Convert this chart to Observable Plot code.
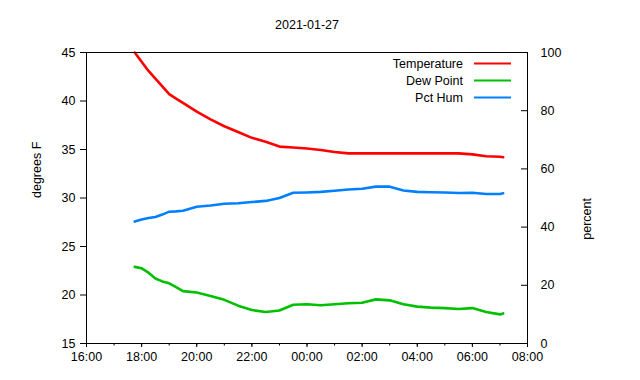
<!DOCTYPE html>
<html><head><meta charset="utf-8">
<script src="https://cdn.jsdelivr.net/npm/d3@7"></script>
<script src="https://cdn.jsdelivr.net/npm/@observablehq/plot@0.6"></script>
<style>body{margin:0;background:#fff;} svg{display:block;}</style>
</head><body><div id="chart"></div>
<script>
const title = "2021-01-27";
const times = ["17:45","18:00","18:15","18:30","18:45","19:00","19:15","19:30","20:00","20:30","21:00","21:30","22:00","22:30","23:00","23:30",
  "00:00","00:30","01:00","01:30","02:00","02:30","03:00","03:30","04:00","04:30","05:00","05:30","06:00","06:30","07:00","07:07"];
const temperature = [45.0,44.05,43.1,42.3,41.5,40.7,40.25,39.8,38.9,38.1,37.4,36.8,36.2,35.8,35.3,35.2,
  35.1,34.95,34.75,34.6,34.6,34.6,34.6,34.6,34.6,34.6,34.6,34.6,34.5,34.3,34.25,34.2];
const dewPoint = [22.9,22.75,22.3,21.7,21.4,21.2,20.8,20.4,20.25,19.9,19.5,18.9,18.45,18.25,18.4,19.0,
  19.05,18.95,19.05,19.15,19.2,19.55,19.45,19.05,18.8,18.7,18.65,18.55,18.65,18.25,18.0,18.1];
const pctHum = [41.9,42.6,43.1,43.5,44.3,45.3,45.4,45.6,47.0,47.4,48.0,48.2,48.6,49.0,50.0,51.8,
  51.9,52.1,52.5,52.9,53.2,53.9,53.9,52.6,52.1,52.0,51.9,51.7,51.8,51.4,51.4,51.6];
const xTickLabels = ["16:00","18:00","20:00","22:00","00:00","02:00","04:00","06:00","08:00"];
const leftTicks = [15,20,25,30,35,40,45];
const rightTicks = [0,20,40,60,80,100];
const seriesNames = ["Temperature","Dew Point","Pct Hum"];
const seriesColors = ["#ff0000","#00c000","#0080ff"];
const leftLabel = "degrees F";
const rightLabel = "percent";

const toDate = s => { const [h,m] = s.split(":").map(Number); return new Date(Date.UTC(2021,0,h < 12 ? 28 : 27,h,m)); };
const dates = times.map(toDate);
const xTicks = xTickLabels.map(toDate);
const xDomain = [xTicks[0], xTicks[xTicks.length-1]];
const minorTicks = d3.utcHours(xDomain[0], d3.utcHour.offset(xDomain[1], 1));
const leftDomain = [leftTicks[0], leftTicks[leftTicks.length-1]];
const rightDomain = [rightTicks[0], rightTicks[rightTicks.length-1]];
const pctToLeft = d3.scaleLinear().domain(rightDomain).range(leftDomain);

const rows = times.map((t,i) => ({date: dates[i], temp: temperature[i], dew: dewPoint[i], hum: pctToLeft(pctHum[i])}));

const chart = Plot.plot({
  width: 640, height: 380,
  marginTop: 52, marginBottom: 37, marginLeft: 86, marginRight: 113,
  style: {fontFamily: "'Liberation Sans', Arial, sans-serif", fontSize: "12.5px", background: "#fff", color: "#000"},
  x: {type: "utc", domain: xDomain},
  y: {domain: leftDomain},
  marks: [
    Plot.line(rows, {x: "date", y: "temp", stroke: seriesColors[0], strokeWidth: 2.6}),
    Plot.line(rows, {x: "date", y: "dew", stroke: seriesColors[1], strokeWidth: 2.6}),
    Plot.line(rows, {x: "date", y: "hum", stroke: seriesColors[2], strokeWidth: 2.6}),
    Plot.frame({stroke: "#000"}),
    Plot.axisX({ticks: minorTicks, tickSize: 2.5, tickFormat: () => "", label: null}),
    Plot.axisX({ticks: xTicks, tickSize: 4, tickPadding: 5, tickFormat: d3.utcFormat("%H:%M"), label: null}),
    Plot.axisY({anchor: "left", ticks: leftTicks, tickSize: 6, tickPadding: 5, label: null}),
    Plot.axisY({anchor: "right", ticks: rightTicks.map(pctToLeft), tickSize: -7, tickPadding: 20, tickFormat: (d,i) => String(rightTicks[i]), label: null}),
    Plot.text([title], {frameAnchor: "top", dy: -28, lineAnchor: "middle"}),
    Plot.text([leftLabel], {frameAnchor: "left", dx: -50, rotate: -90, lineAnchor: "middle"}),
    Plot.text([rightLabel], {frameAnchor: "right", dx: 59, rotate: -90, lineAnchor: "middle"})
  ]
});
document.getElementById("chart").appendChild(chart);

// legend inside the plot area, top right
const svg = d3.select(chart);
const lg = svg.append("g").attr("font-family", "'Liberation Sans', Arial, sans-serif").attr("font-size", "12.5px");
seriesNames.forEach((name, i) => {
  const y = 63.5 + i * 17;
  lg.append("text").attr("x", 463).attr("y", y).attr("dy", "0.35em").attr("text-anchor", "end").attr("fill", "#000").text(name);
  lg.append("line").attr("x1", 474).attr("x2", 511).attr("y1", y).attr("y2", y).attr("stroke", seriesColors[i]).attr("stroke-width", 2);
});
</script>
</body></html>
